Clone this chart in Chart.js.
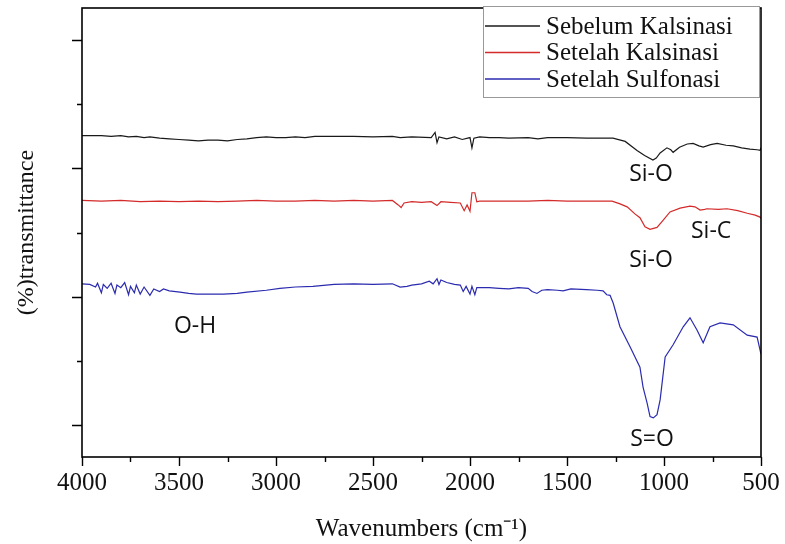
<!DOCTYPE html>
<html>
<head>
<meta charset="utf-8">
<title>FTIR</title>
<script src="https://cdn.jsdelivr.net/npm/chart.js@4.4.1/dist/chart.umd.min.js"></script>
<style>
    html, body { margin: 0; padding: 0; background: #fff; }
    #wrap { width: 785px; height: 544px; position: relative; }
</style>
</head>
<body>
<div id="wrap"><canvas id="ftirChart"></canvas></div>
<script>
/**
 * FTIR spectra: before calcination, after calcination, after sulfonation
 * x = wavenumber (cm-1), y = relative transmittance (offset, arbitrary units)
 */

// Sebelum Kalsinasi (black)
const sebelumX = [4000, 3900, 3850, 3800, 3760, 3720, 3680, 3650, 3600, 3550, 3500, 3450, 3400, 3350, 3300, 3250,
    3200, 3150, 3100, 3050, 3000, 2950, 2900, 2850, 2800, 2700, 2600, 2500, 2400, 2360, 2300, 2200, 2180, 2170,
    2160, 2120, 2080, 2040, 2000, 1990, 1980, 1950, 1900, 1850, 1800, 1700, 1650, 1600, 1500, 1400, 1300, 1263,
    1200, 1139, 1100, 1057, 1040, 1020, 985, 965, 953, 920, 880, 850, 820, 798, 760, 726, 680, 643, 600, 557,
    520, 505, 500];
const sebelumY = [45.1, 45.1, 45.0, 45.1, 44.9, 45.0, 44.8, 44.9, 44.7, 44.6, 44.5, 44.4, 44.3, 44.4, 44.4, 44.3,
    44.5, 44.6, 44.8, 44.9, 44.8, 44.8, 44.9, 44.8, 45.0, 45.0, 45.0, 44.9, 45.0, 44.8, 44.9, 44.8, 45.6, 44.0,
    44.9, 44.6, 44.9, 44.5, 44.8, 43.2, 44.7, 44.9, 44.8, 44.8, 44.7, 44.8, 44.6, 44.8, 44.8, 44.7, 44.7, 44.7,
    44.2, 42.8, 42.0, 41.3, 41.6, 42.4, 43.2, 42.9, 42.5, 43.3, 43.8, 43.9, 43.5, 43.3, 43.7, 43.9, 43.6, 43.5,
    43.2, 43.0, 42.9, 42.8, 43.2];

// Setelah Kalsinasi (red)
const kalsinasiX = [4000, 3900, 3800, 3700, 3600, 3500, 3400, 3300, 3200, 3100, 3000, 2900, 2800, 2700, 2600, 2500,
    2400, 2370, 2355, 2340, 2300, 2250, 2200, 2170, 2150, 2100, 2050, 2030, 2015, 2000, 1990, 1975, 1965, 1950,
    1900, 1800, 1700, 1600, 1500, 1400, 1300, 1268, 1230, 1190, 1150, 1124, 1098, 1072, 1036, 1005, 969, 917,
    866, 840, 814, 790, 778, 720, 675, 620, 571, 530, 505, 500];
const kalsinasiY = [35.0, 34.9, 35.0, 34.8, 34.9, 34.8, 34.9, 34.8, 34.9, 35.0, 34.9, 34.9, 35.0, 34.9, 35.0, 34.9,
    35.0, 34.3, 33.9, 34.6, 34.8, 34.7, 34.8, 34.2, 34.8, 34.7, 34.6, 33.4, 34.3, 33.3, 36.2, 36.2, 34.8, 34.9,
    34.9, 34.9, 34.9, 35.0, 34.9, 34.9, 34.9, 34.9, 34.5, 34.0, 32.9, 32.3, 30.9, 30.5, 30.8, 31.9, 33.2, 33.8,
    34.1, 34.0, 33.5, 33.6, 33.7, 33.6, 33.7, 33.4, 33.0, 32.7, 32.4, 32.2];

// Setelah Sulfonasi (blue)
const sulfonasiX = [4000, 3960, 3930, 3920, 3900, 3890, 3870, 3850, 3830, 3820, 3800, 3780, 3760, 3750, 3730, 3720,
    3700, 3680, 3650, 3630, 3600, 3580, 3550, 3495, 3450, 3410, 3350, 3270, 3200, 3150, 3050, 2980, 2900, 2810,
    2700, 2600, 2500, 2400, 2360, 2325, 2300, 2250, 2210, 2190, 2170, 2160, 2150, 2120, 2080, 2050, 2035, 2020,
    2000, 1990, 1975, 1965, 1950, 1900, 1850, 1800, 1750, 1700, 1680, 1655, 1630, 1600, 1550, 1520, 1480, 1400,
    1345, 1314, 1295, 1278, 1262, 1227, 1175, 1124, 1108, 1087, 1072, 1055, 1036, 1020, 994, 953, 901, 866,
    830, 798, 763, 711, 643, 571, 520, 505, 500];
const sulfonasiY = [22.0, 21.9, 21.5, 22.1, 20.6, 21.9, 21.3, 22.1, 20.5, 21.8, 21.4, 22.2, 20.3, 21.6, 20.6, 21.8,
    20.4, 21.5, 20.2, 21.2, 20.8, 21.2, 20.9, 20.7, 20.5, 20.4, 20.4, 20.4, 20.5, 20.7, 21.0, 21.3, 21.5, 21.6,
    21.9, 22.0, 21.9, 22.0, 21.5, 21.6, 21.8, 22.0, 22.4, 22.0, 22.8, 21.9, 22.6, 22.2, 21.9, 21.8, 20.8, 21.6,
    20.4, 21.6, 20.3, 21.4, 21.4, 21.4, 21.3, 21.2, 21.4, 21.3, 20.8, 20.5, 21.0, 21.1, 21.0, 20.9, 21.2, 21.1,
    21.0, 20.9, 20.3, 20.2, 19.0, 15.3, 12.2, 9.0, 5.9, 3.4, 1.3, 1.1, 1.6, 3.9, 10.6, 12.5, 15.3, 16.7,
    14.8, 12.8, 15.3, 15.9, 15.6, 14.0, 13.7, 11.7, 11.0];

const seriesLabels = ['Sebelum Kalsinasi', 'Setelah Kalsinasi', 'Setelah Sulfonasi'];

// band assignments written on the plot
const peakLabels = ['Si-O', 'Si-C', 'Si-O', 'O-H', 'S=O'];
const peakWn = [1067, 757, 1067, 3417, 1062];
const peakT = [39.0, 30.2, 25.6, 15.3, -2.2];

// tick marks
const xMajorTicks = [4000, 3500, 3000, 2500, 2000, 1500, 1000, 500];
const xMinorTicks = [3750, 3250, 2750, 2250, 1750, 1250, 750];
const yMajorTicks = [0, 20, 40, 60];
const yMinorTicks = [10, 30, 50];

const SERIF = '"Liberation Serif", "Times New Roman", serif';

function toPoints(xs, ys) {
    return xs.map((x, i) => ({ x: x, y: ys[i] }));
}

/**
 * Draws the frame, tick marks, peak labels and the boxed legend
 */
const framePlugin = {
    id: 'frame',
    afterDatasetsDraw(chart) {
        const { ctx, chartArea: a, scales: { x, y } } = chart;
        ctx.save();

        // peak labels
        ctx.font = '23px "Open Sans", "Noto Sans", sans-serif';
        ctx.fillStyle = '#111';
        ctx.textAlign = 'center';
        ctx.textBaseline = 'middle';
        peakLabels.forEach((t, i) => {
            ctx.fillText(t, x.getPixelForValue(peakWn[i]), y.getPixelForValue(peakT[i]));
        });

        // frame
        ctx.strokeStyle = '#000';
        ctx.lineWidth = 1.6;
        ctx.strokeRect(a.left, a.top, a.right - a.left, a.bottom - a.top);

        // ticks
        ctx.lineWidth = 1.4;
        ctx.beginPath();
        xMajorTicks.forEach(v => {
            const px = Math.round(x.getPixelForValue(v)) + 0.5;
            ctx.moveTo(px, a.bottom);
            ctx.lineTo(px, a.bottom + 9);
        });
        xMinorTicks.forEach(v => {
            const px = Math.round(x.getPixelForValue(v)) + 0.5;
            ctx.moveTo(px, a.bottom);
            ctx.lineTo(px, a.bottom + 5);
        });
        yMajorTicks.forEach(v => {
            const py = Math.round(y.getPixelForValue(v)) + 0.5;
            ctx.moveTo(a.left, py);
            ctx.lineTo(a.left - 10, py);
        });
        yMinorTicks.forEach(v => {
            const py = Math.round(y.getPixelForValue(v)) + 0.5;
            ctx.moveTo(a.left, py);
            ctx.lineTo(a.left - 5, py);
        });
        ctx.stroke();

        // legend box in the top right corner
        const bx = a.right - 278, by = a.top - 2, bw = 276, bh = 91;
        ctx.fillStyle = '#fff';
        ctx.fillRect(bx, by, bw, bh);
        ctx.strokeStyle = '#999';
        ctx.lineWidth = 1;
        ctx.strokeRect(bx + 0.5, by + 0.5, bw, bh);
        ctx.font = '25px ' + SERIF;
        ctx.textAlign = 'left';
        ctx.textBaseline = 'middle';
        chart.data.datasets.forEach((ds, i) => {
            const ly = by + 20 + i * 26.5;
            ctx.strokeStyle = ds.borderColor;
            ctx.lineWidth = 1.4;
            ctx.beginPath();
            ctx.moveTo(bx + 2, ly);
            ctx.lineTo(bx + 57, ly);
            ctx.stroke();
            ctx.fillStyle = '#111';
            ctx.fillText(ds.label, bx + 63, ly + 1);
        });

        ctx.restore();
    },
};

function initFtirChart() {
    const ctx = document.getElementById('ftirChart');

    new Chart(ctx, {
        type: 'line',
        data: {
            datasets: [
                {
                    label: seriesLabels[0],
                    data: toPoints(sebelumX, sebelumY),
                    borderColor: '#1a1a1a',
                    borderWidth: 1.2,
                },
                {
                    label: seriesLabels[1],
                    data: toPoints(kalsinasiX, kalsinasiY),
                    borderColor: '#d42a2a',
                    borderWidth: 1.2,
                },
                {
                    label: seriesLabels[2],
                    data: toPoints(sulfonasiX, sulfonasiY),
                    borderColor: '#2b2bb0',
                    borderWidth: 1.2,
                },
            ],
        },
        options: {
            responsive: true,
            maintainAspectRatio: false,
            animation: false,
            elements: {
                point: { radius: 0 },
                line: { tension: 0 },
            },
            layout: {
                padding: { left: 0, right: 24, top: 8, bottom: 0 },
            },
            plugins: {
                legend: { display: false },
                tooltip: { enabled: false },
            },
            scales: {
                x: {
                    type: 'linear',
                    reverse: true,
                    min: 500,
                    max: 4000,
                    border: { display: false },
                    grid: { display: false, drawTicks: false },
                    ticks: {
                        stepSize: 500,
                        autoSkip: false,
                        maxRotation: 0,
                        padding: 11,
                        color: '#111',
                        font: { family: SERIF, size: 25 },
                        callback: v => String(v),
                    },
                    title: {
                        display: true,
                        text: 'Wavenumbers (cm\u207B\u00B9)',
                        color: '#111',
                        padding: 0,
                        font: { family: SERIF, size: 25 },
                    },
                    afterFit: s => {
                        s.height = 87;
                        // let the end labels overhang the plot like the original
                        s.paddingLeft = 0;
                        s.paddingRight = 0;
                    },
                },
                y: {
                    min: -5,
                    max: 65,
                    border: { display: false },
                    grid: { display: false, drawTicks: false },
                    ticks: { display: false },
                    title: {
                        display: true,
                        text: '(%)transmittance',
                        color: '#111',
                        padding: { top: 12, bottom: 0 },
                        font: { family: SERIF, size: 24 },
                    },
                    afterFit: s => { s.width = 82; },
                },
            },
        },
        plugins: [framePlugin],
    });
}

document.addEventListener('DOMContentLoaded', initFtirChart);
</script>
</body>
</html>
